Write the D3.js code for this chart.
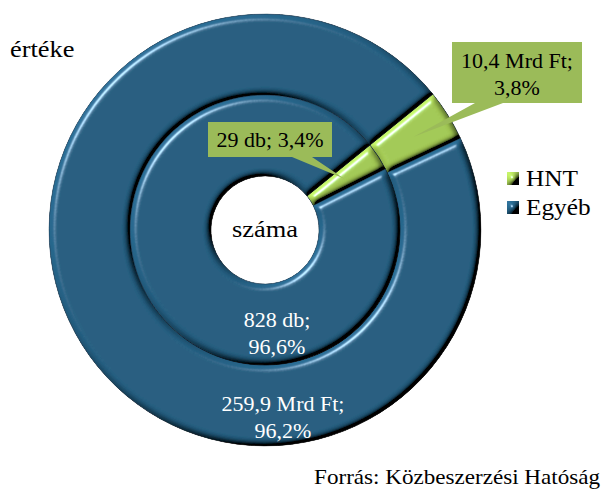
<!DOCTYPE html>
<html lang="hu">
<head>
<meta charset="utf-8">
<script src="https://cdn.jsdelivr.net/npm/d3@7"></script>
<style>
  body { margin: 0; background: #fff; }
</style>
</head>
<body>
<script>
// data
var categories = ["HNT", "Egyéb"];
var ertekeValues = [10.4, 259.9];          // Mrd Ft, outer ring
var ertekeLabels = ["10,4 Mrd Ft;", "259,9 Mrd Ft;"];
var ertekePct = ["3,8%", "96,2%"];
var szamaValues = [29, 828];               // db, inner ring
var szamaLabels = ["29 db;", "828 db;"];
var szamaPct = ["3,4%", "96,6%"];

var width = 604, height = 491;
var cx = 265, cy = 230;
var rHole = 54, rMid = 135, rOuter = 216;
var startDeg = 51;
var serif = "'Liberation Serif'";
var widen = 1.1;   // Palatino-ish width from Times metrics

var color = d3.scaleOrdinal().domain(categories).range(["#a2c853", "#235c7e"]);

var svg = d3.select("body").append("svg")
    .attr("width", width)
    .attr("height", height);

var defs = svg.append("defs");

// bevel look: shading + highlight from top-left
var f = defs.append("filter").attr("id", "bevel")
    .attr("x", "-5%").attr("y", "-5%").attr("width", "110%").attr("height", "110%");
f.append("feGaussianBlur").attr("in", "SourceAlpha").attr("stdDeviation", 3).attr("result", "blur");
f.append("feDiffuseLighting").attr("in", "blur").attr("surfaceScale", 6)
    .attr("diffuseConstant", 1).attr("lighting-color", "#fff").attr("result", "diff")
  .append("feDistantLight").attr("azimuth", 225).attr("elevation", 40);
f.append("feComposite").attr("in", "SourceGraphic").attr("in2", "diff")
    .attr("operator", "arithmetic").attr("k1", 1.56).attr("k2", 0).attr("result", "shaded");
f.append("feSpecularLighting").attr("in", "blur").attr("surfaceScale", 6)
    .attr("specularConstant", 1.0).attr("specularExponent", 45)
    .attr("lighting-color", "#bfe2f7").attr("result", "spec")
  .append("feDistantLight").attr("azimuth", 225).attr("elevation", 40);
f.append("feComposite").attr("in", "spec").attr("in2", "SourceAlpha").attr("operator", "in").attr("result", "specIn");
f.append("feComposite").attr("in", "shaded").attr("in2", "specIn")
    .attr("operator", "arithmetic").attr("k2", 1).attr("k3", 1).attr("result", "lit");
f.append("feComposite").attr("in", "lit").attr("in2", "SourceAlpha").attr("operator", "in");

var g = svg.append("g").attr("transform", "translate(" + cx + "," + cy + ")");

var pie = d3.pie().sort(null)
    .startAngle(startDeg * Math.PI / 180)
    .endAngle(startDeg * Math.PI / 180 + 2 * Math.PI);

var outerArc = d3.arc().innerRadius(rMid).outerRadius(rOuter);
var innerArc = d3.arc().innerRadius(rHole).outerRadius(rMid);

var outerData = pie(ertekeValues);
var innerData = pie(szamaValues);

g.selectAll("path.outer")
    .data(outerData)
    .enter().append("path")
    .attr("class", "outer")
    .attr("d", outerArc)
    .attr("fill", function(d, i) { return color(categories[i]); })
    .attr("stroke", "#12324a").attr("stroke-width", 0.7)
    .attr("filter", "url(#bevel)");

g.selectAll("path.inner")
    .data(innerData)
    .enter().append("path")
    .attr("class", "inner")
    .attr("d", innerArc)
    .attr("fill", function(d, i) { return color(categories[i]); })
    .attr("stroke", "#12324a").attr("stroke-width", 0.7)
    .attr("filter", "url(#bevel)");

// callouts for HNT
var calloutFill = "#9bbb59";
var tipOuter = outerArc.centroid(outerData[0]);
var tipInner = innerArc.centroid(innerData[0]);

function callout(x0, y0, w, h, b0, b1, tip) {
    var tx = tip[0] + cx, ty = tip[1] + cy;
    var p = d3.path();
    p.moveTo(x0, y0);
    p.lineTo(x0 + w, y0);
    p.lineTo(x0 + w, y0 + h);
    p.lineTo(b1, y0 + h);
    p.lineTo(tx, ty);
    p.lineTo(b0, y0 + h);
    p.lineTo(x0, y0 + h);
    p.closePath();
    svg.append("path").attr("d", p.toString()).attr("fill", calloutFill);
}

callout(452, 42, 130, 61, 475, 503, tipOuter);
callout(208, 122, 124, 35, 292, 312, tipInner);

var fs = 20;
function label(x, y, txt, fill, anchor, size) {
    return svg.append("text")
        .attr("class", "lbl")
        .attr("transform", "translate(" + x + "," + y + ") scale(" + widen + ",1)")
        .attr("text-anchor", anchor || "middle")
        .style("font-family", serif)
        .attr("font-size", size || fs).attr("fill", fill || "#000").text(txt);
}

label(517, 68, ertekeLabels[0]);
label(517, 95, ertekePct[0]);
label(270, 147, szamaLabels[0] + " " + szamaPct[0]);

// Egyéb labels
label(277, 327, szamaLabels[1], "#fff");
label(277, 354, szamaPct[1], "#fff");
label(283, 411, ertekeLabels[1], "#fff");
label(283, 438, ertekePct[1], "#fff");

// ring titles
label(10, 57, "értéke", "#000", "start", 24);
label(cx, 237, "száma", "#000", "middle", 24);

// legend
var legend = svg.append("g").attr("transform", "translate(507,172)");
var items = legend.selectAll("g").data(categories).enter().append("g")
    .attr("transform", function(d, i) { return "translate(0," + (i * 29) + ")"; });
items.append("rect").attr("width", 12).attr("height", 13)
    .attr("fill", function(d) { return color(d); })
    .attr("filter", "url(#bevel)");
items.append("text")
    .attr("transform", "translate(19,14) scale(" + widen + ",1)")
    .style("font-family", serif).attr("font-size", 23)
    .text(function(d) { return d; });

label(600, 484, "Forrás: Közbeszerzési Hatóság", "#000", "end", 21);

// make sure the serif face is picked up once it is available
if (document.fonts && document.fonts.load) {
    document.fonts.load("20px " + serif).then(function() {
        svg.selectAll("text").style("font-family", null).style("font-family", serif);
    });
}
</script>
</body>
</html>
